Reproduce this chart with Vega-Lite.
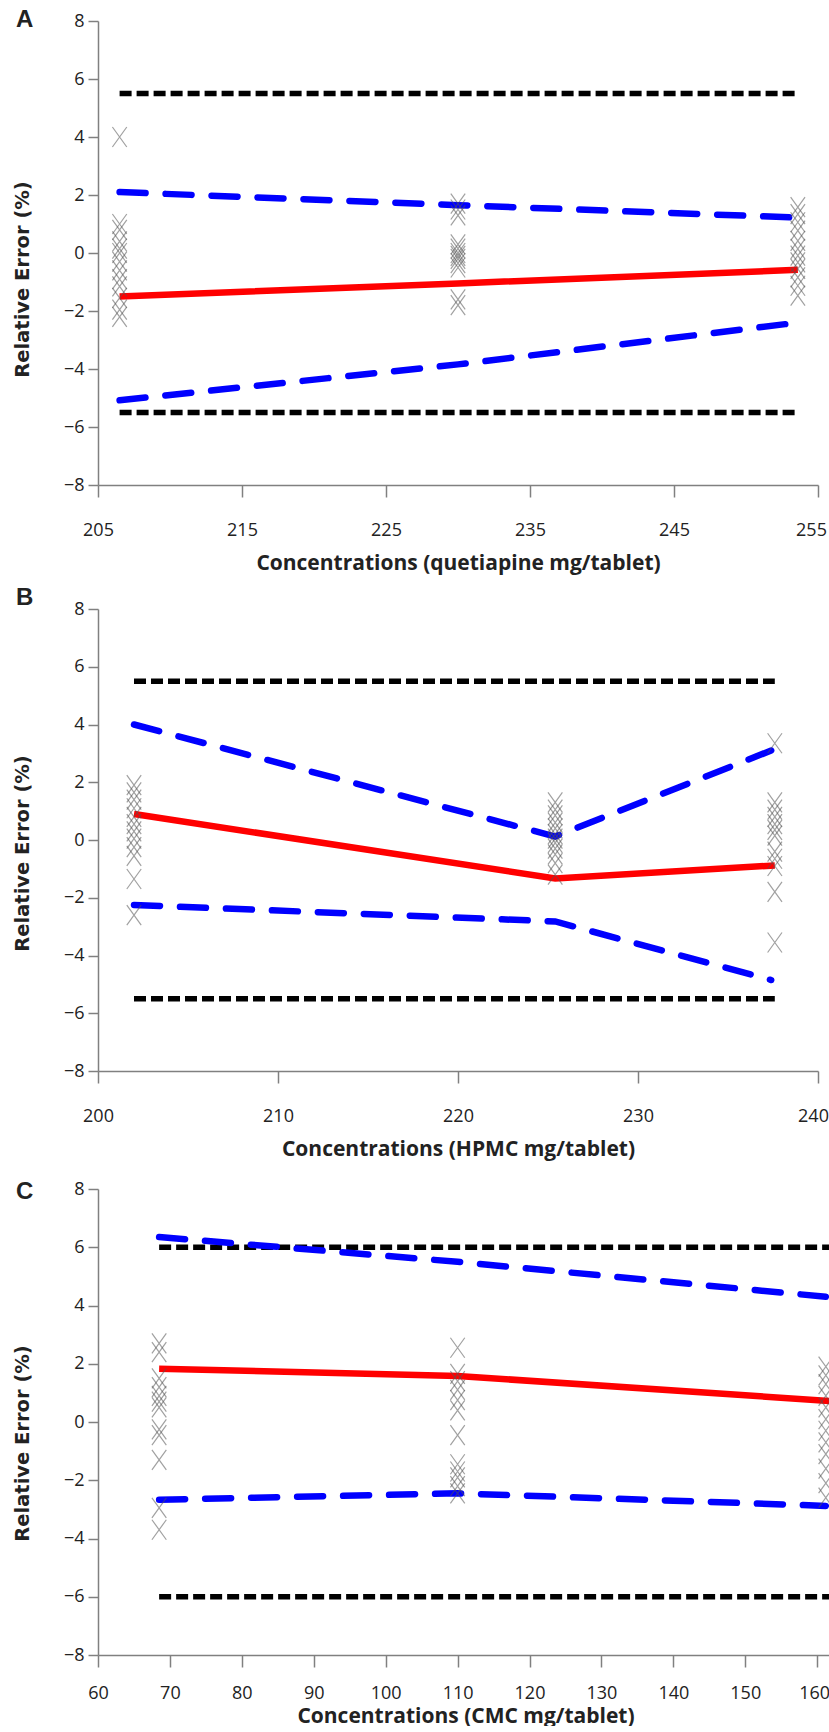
{
  "$schema": "https://vega.github.io/schema/vega-lite/v6.json",
  "padding": {"left": 12, "top": 8, "right": 0, "bottom": 0},
  "background": "white",
  "config": {
    "view": {"stroke": null},
    "axis": {
      "grid": false,
      "domainColor": "#808080",
      "domainWidth": 1.5,
      "tickColor": "#808080",
      "tickWidth": 1.5,
      "labelFont": "Open Sans",
      "labelFontSize": 18,
      "labelColor": "#222222",
      "titleColor": "#222222",
      "labelFlush": false,
      "labelOverlap": false
    },
    "axisX": {
      "tickSize": 12,
      "labelPadding": 24,
      "titleFont": "Open Sans",
      "titleFontSize": 21,
      "titleFontWeight": "bold",
      "titlePadding": 13
    },
    "axisY": {
      "tickSize": 10,
      "labelPadding": 4,
      "titleFont": "DejaVu Sans",
      "titleFontSize": 19.5,
      "titleFontWeight": "bold",
      "titlePadding": 31
    },
    "title": {
      "font": "Liberation Sans",
      "fontSize": 24,
      "fontWeight": "bold",
      "anchor": "start",
      "frame": "group",
      "color": "#222222",
      "baseline": "alphabetic",
      "offset": 0
    }
  },
  "datasets": {
    "linesA": [
      {"s": "limU", "x": 206.5, "y": 5.5}, {"s": "limU", "x": 253.6, "y": 5.5},
      {"s": "limL", "x": 206.5, "y": -5.5}, {"s": "limL", "x": 253.6, "y": -5.5},
      {"s": "ciU", "x": 206.5, "y": 2.1}, {"s": "ciU", "x": 230.0, "y": 1.65}, {"s": "ciU", "x": 253.6, "y": 1.22},
      {"s": "ciL", "x": 206.5, "y": -5.08}, {"s": "ciL", "x": 230.0, "y": -3.84}, {"s": "ciL", "x": 253.6, "y": -2.4},
      {"s": "mean", "x": 206.5, "y": -1.5}, {"s": "mean", "x": 230.0, "y": -1.05}, {"s": "mean", "x": 253.6, "y": -0.58}
    ],
    "ptsA": [
      {"x": 206.5, "y": 4.0}, {"x": 206.5, "y": 1.0}, {"x": 206.5, "y": 0.8}, {"x": 206.5, "y": 0.4},
      {"x": 206.5, "y": 0.15}, {"x": 206.5, "y": 0.0}, {"x": 206.5, "y": -0.3}, {"x": 206.5, "y": -0.6},
      {"x": 206.5, "y": -0.9}, {"x": 206.5, "y": -1.15}, {"x": 206.5, "y": -1.55}, {"x": 206.5, "y": -1.95},
      {"x": 206.5, "y": -2.2},
      {"x": 230.0, "y": 1.7}, {"x": 230.0, "y": 1.5}, {"x": 230.0, "y": 1.3}, {"x": 230.0, "y": 0.3},
      {"x": 230.0, "y": 0.15}, {"x": 230.0, "y": 0.0}, {"x": 230.0, "y": -0.1}, {"x": 230.0, "y": -0.2},
      {"x": 230.0, "y": -0.35}, {"x": 230.0, "y": -0.5}, {"x": 230.0, "y": -1.6}, {"x": 230.0, "y": -1.8},
      {"x": 253.6, "y": 1.58}, {"x": 253.6, "y": 1.34}, {"x": 253.6, "y": 1.06}, {"x": 253.6, "y": 0.77},
      {"x": 253.6, "y": 0.42}, {"x": 253.6, "y": 0.14}, {"x": 253.6, "y": -0.09}, {"x": 253.6, "y": -0.32},
      {"x": 253.6, "y": -0.55}, {"x": 253.6, "y": -0.84}, {"x": 253.6, "y": -1.13}, {"x": 253.6, "y": -1.47}
    ],
    "linesB": [
      {"s": "limU", "x": 202.0, "y": 5.5}, {"s": "limU", "x": 237.6, "y": 5.5},
      {"s": "limL", "x": 202.0, "y": -5.5}, {"s": "limL", "x": 237.6, "y": -5.5},
      {"s": "ciU", "x": 202.0, "y": 4.0}, {"s": "ciU", "x": 225.4, "y": 0.12}, {"s": "ciU", "x": 237.4, "y": 3.1},
      {"s": "ciL", "x": 202.0, "y": -2.25}, {"s": "ciL", "x": 225.4, "y": -2.82}, {"s": "ciL", "x": 237.4, "y": -4.85},
      {"s": "mean", "x": 202.0, "y": 0.9}, {"s": "mean", "x": 225.4, "y": -1.33}, {"s": "mean", "x": 237.6, "y": -0.88}
    ],
    "ptsB": [
      {"x": 202.0, "y": 1.9}, {"x": 202.0, "y": 1.65}, {"x": 202.0, "y": 1.4}, {"x": 202.0, "y": 1.1},
      {"x": 202.0, "y": 0.8}, {"x": 202.0, "y": 0.55}, {"x": 202.0, "y": 0.3}, {"x": 202.0, "y": 0.05},
      {"x": 202.0, "y": -0.25}, {"x": 202.0, "y": -0.55}, {"x": 202.0, "y": -1.35}, {"x": 202.0, "y": -2.6},
      {"x": 225.4, "y": 1.3}, {"x": 225.4, "y": 1.05}, {"x": 225.4, "y": 0.85}, {"x": 225.4, "y": 0.6},
      {"x": 225.4, "y": 0.4}, {"x": 225.4, "y": 0.2}, {"x": 225.4, "y": 0.05}, {"x": 225.4, "y": -0.1},
      {"x": 225.4, "y": -0.3}, {"x": 225.4, "y": -0.5}, {"x": 225.4, "y": -0.8}, {"x": 225.4, "y": -1.2},
      {"x": 237.6, "y": 3.35}, {"x": 237.6, "y": 1.3}, {"x": 237.6, "y": 1.05}, {"x": 237.6, "y": 0.8},
      {"x": 237.6, "y": 0.55}, {"x": 237.6, "y": 0.35}, {"x": 237.6, "y": 0.15}, {"x": 237.6, "y": -0.4},
      {"x": 237.6, "y": -0.65}, {"x": 237.6, "y": -0.9}, {"x": 237.6, "y": -1.8}, {"x": 237.6, "y": -3.55}
    ],
    "linesC": [
      {"s": "limU", "x": 68.5, "y": 6.0}, {"s": "limU", "x": 162.2, "y": 6.0},
      {"s": "limL", "x": 68.5, "y": -6.0}, {"s": "limL", "x": 162.2, "y": -6.0},
      {"s": "ciU", "x": 68.5, "y": 6.35}, {"s": "ciU", "x": 110.0, "y": 5.5}, {"s": "ciU", "x": 161.2, "y": 4.3},
      {"s": "ciL", "x": 68.5, "y": -2.67}, {"s": "ciL", "x": 110.0, "y": -2.45}, {"s": "ciL", "x": 161.2, "y": -2.88},
      {"s": "mean", "x": 68.5, "y": 1.83}, {"s": "mean", "x": 110.0, "y": 1.58}, {"s": "mean", "x": 161.8, "y": 0.72}
    ],
    "ptsC": [
      {"x": 68.5, "y": 2.7}, {"x": 68.5, "y": 2.4}, {"x": 68.5, "y": 1.5}, {"x": 68.5, "y": 1.2},
      {"x": 68.5, "y": 0.9}, {"x": 68.5, "y": 0.7}, {"x": 68.5, "y": 0.5}, {"x": 68.5, "y": -0.25},
      {"x": 68.5, "y": -0.45}, {"x": 68.5, "y": -1.3}, {"x": 68.5, "y": -2.95}, {"x": 68.5, "y": -3.7},
      {"x": 110.0, "y": 2.55}, {"x": 110.0, "y": 1.65}, {"x": 110.0, "y": 1.4}, {"x": 110.0, "y": 1.1},
      {"x": 110.0, "y": 0.75}, {"x": 110.0, "y": 0.4}, {"x": 110.0, "y": -0.45}, {"x": 110.0, "y": -1.45},
      {"x": 110.0, "y": -1.7}, {"x": 110.0, "y": -1.9}, {"x": 110.0, "y": -2.2}, {"x": 110.0, "y": -2.45},
      {"x": 161.2, "y": 1.9}, {"x": 161.2, "y": 1.6}, {"x": 161.2, "y": 1.3}, {"x": 161.2, "y": 0.9},
      {"x": 161.2, "y": 0.5}, {"x": 161.2, "y": 0.1}, {"x": 161.2, "y": -0.3}, {"x": 161.2, "y": -0.7},
      {"x": 161.2, "y": -1.1}, {"x": 161.2, "y": -1.6}, {"x": 161.2, "y": -2.1}, {"x": 161.2, "y": -2.6}
    ]
  },
  "spacing": 13,
  "vconcat": [
    {
      "width": 720,
      "height": 464,
      "title": {"text": "A", "dx": -82, "dy": 24},
      "encoding": {
        "x": {"field": "x", "type": "quantitative", "scale": {"domain": [205, 255], "nice": false, "zero": false},
              "axis": {"values": [205, 215, 225, 235, 245, 255], "title": "Concentrations (quetiapine mg/tablet)",
                       "labelOffset": {"condition": {"test": "datum.value === 255", "value": -7}, "value": 0}}},
        "y": {"field": "y", "type": "quantitative", "scale": {"domain": [-8, 8], "nice": false},
              "axis": {"values": [-8, -6, -4, -2, 0, 2, 4, 6, 8], "title": "Relative Error (%)", "titleY": 258}}
      },
      "layer": [
        {"data": {"name": "linesA"}, "transform": [{"filter": "datum.s === 'limU' || datum.s === 'limL'"}],
         "mark": {"type": "line", "color": "#000000", "strokeWidth": 5.5, "strokeDash": [12, 5], "clip": true},
         "encoding": {"detail": {"field": "s"}}},
        {"data": {"name": "linesA"}, "transform": [{"filter": "datum.s === 'ciU' || datum.s === 'ciL'"}],
         "mark": {"type": "line", "color": "#0000FF", "strokeWidth": 6.5, "strokeDash": [26, 20], "strokeCap": "round", "clip": true},
         "encoding": {"detail": {"field": "s"}}},
        {"data": {"name": "linesA"}, "transform": [{"filter": "datum.s === 'mean'"}],
         "mark": {"type": "line", "color": "#FF0000", "strokeWidth": 6.5, "clip": true},
         "encoding": {}},
        {"data": {"name": "ptsA"},
         "mark": {"type": "point", "shape": "M-0.72,-1L0.72,1M0.72,-1L-0.72,1", "size": 400, "filled": false, "stroke": "#555555", "strokeWidth": 1.2, "opacity": 0.55, "clip": true},
         "encoding": {}}
      ]
    },
    {
      "spacing": 21,
      "vconcat": [
        {
          "width": 720,
          "height": 462,
          "title": {"text": "B", "dx": -82, "dy": 14},
          "encoding": {
            "x": {"field": "x", "type": "quantitative", "scale": {"domain": [200, 240], "nice": false, "zero": false},
                  "axis": {"values": [200, 210, 220, 230, 240], "title": "Concentrations (HPMC mg/tablet)",
                           "labelOffset": {"condition": {"test": "datum.value === 240", "value": -5}, "value": 0}}},
            "y": {"field": "y", "type": "quantitative", "scale": {"domain": [-8, 8], "nice": false},
                  "axis": {"values": [-8, -6, -4, -2, 0, 2, 4, 6, 8], "title": "Relative Error (%)", "titleY": 244}}
          },
          "layer": [
            {"data": {"name": "linesB"}, "transform": [{"filter": "datum.s === 'limU' || datum.s === 'limL'"}],
             "mark": {"type": "line", "color": "#000000", "strokeWidth": 5.5, "strokeDash": [12, 5], "clip": true},
             "encoding": {"detail": {"field": "s"}}},
            {"data": {"name": "linesB"}, "transform": [{"filter": "datum.s === 'ciU' || datum.s === 'ciL'"}],
             "mark": {"type": "line", "color": "#0000FF", "strokeWidth": 6.5, "strokeDash": [26, 20], "strokeCap": "round", "clip": true},
             "encoding": {"detail": {"field": "s"}}},
            {"data": {"name": "linesB"}, "transform": [{"filter": "datum.s === 'mean'"}],
             "mark": {"type": "line", "color": "#FF0000", "strokeWidth": 6.5, "clip": true},
             "encoding": {}},
            {"data": {"name": "ptsB"},
             "mark": {"type": "point", "shape": "M-0.72,-1L0.72,1M0.72,-1L-0.72,1", "size": 400, "filled": false, "stroke": "#555555", "strokeWidth": 1.2, "opacity": 0.55, "clip": true},
             "encoding": {}}
          ]
        },
        {
          "width": 735,
          "height": 466,
          "title": {"text": "C", "dx": -82, "dy": 28},
          "encoding": {
            "x": {"field": "x", "type": "quantitative", "scale": {"domain": [60, 162.2], "nice": false, "zero": false},
                  "axis": {"values": [60, 70, 80, 90, 100, 110, 120, 130, 140, 150, 160], "title": "Concentrations (CMC mg/tablet)", "labelPadding": 17, "titlePadding": 3,
                           "labelOffset": {"condition": {"test": "datum.value === 160", "value": -3}, "value": 0}}},
            "y": {"field": "y", "type": "quantitative", "scale": {"domain": [-8, 8], "nice": false},
                  "axis": {"values": [-8, -6, -4, -2, 0, 2, 4, 6, 8], "title": "Relative Error (%)", "titleY": 254}}
          },
          "layer": [
            {"data": {"name": "linesC"}, "transform": [{"filter": "datum.s === 'limU' || datum.s === 'limL'"}],
             "mark": {"type": "line", "color": "#000000", "strokeWidth": 5.5, "strokeDash": [12, 5], "clip": true},
             "encoding": {"detail": {"field": "s"}}},
            {"data": {"name": "linesC"}, "transform": [{"filter": "datum.s === 'ciU' || datum.s === 'ciL'"}],
             "mark": {"type": "line", "color": "#0000FF", "strokeWidth": 6.5, "strokeDash": [26, 20], "strokeCap": "round", "clip": true},
             "encoding": {"detail": {"field": "s"}}},
            {"data": {"name": "linesC"}, "transform": [{"filter": "datum.s === 'mean'"}],
             "mark": {"type": "line", "color": "#FF0000", "strokeWidth": 6.5, "clip": true},
             "encoding": {}},
            {"data": {"name": "ptsC"},
             "mark": {"type": "point", "shape": "M-0.72,-1L0.72,1M0.72,-1L-0.72,1", "size": 400, "filled": false, "stroke": "#555555", "strokeWidth": 1.2, "opacity": 0.55, "clip": true},
             "encoding": {}}
          ]
        }
      ]
    }
  ]
}
